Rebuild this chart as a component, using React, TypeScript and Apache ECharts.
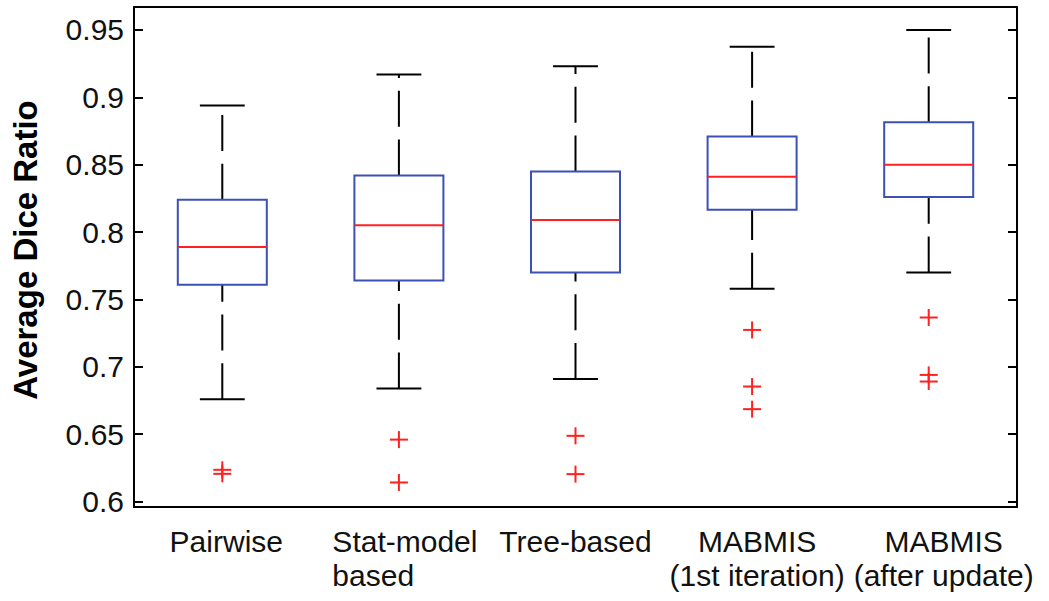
import React, { useEffect, useRef } from "react";
import * as echarts from "echarts";

const categories = [
  "Pairwise",
  "Stat-model\nbased",
  "Tree-based",
  "MABMIS\n(1st iteration)",
  "MABMIS\n(after update)",
];
const lowerWhisker = [0.676, 0.684, 0.691, 0.758, 0.770];
const q1 = [0.761, 0.764, 0.770, 0.8165, 0.826];
const median = [0.789, 0.805, 0.809, 0.841, 0.850];
const q3 = [0.824, 0.842, 0.845, 0.871, 0.8815];
const upperWhisker = [0.894, 0.917, 0.923, 0.9375, 0.950];
const outliers = [
  [0.6236, 0.6206],
  [0.646, 0.6142],
  [0.6488, 0.6204],
  [0.7274, 0.6854, 0.6686],
  [0.7366, 0.694, 0.6891],
];
const yTicks = [0.6, 0.65, 0.7, 0.75, 0.8, 0.85, 0.9, 0.95];

const FONT = "'Liberation Sans', Arial, sans-serif";
const BLUE = "#3d50b6";
const RED = "#ff2020";
// per-label horizontal nudges (left padding) and alignment
const labelPad = [8, 12, 0, 10, 30];
const labelAlign = ["center", "left", "center", "center", "center"];

export default function App() {
  const ref = useRef<HTMLDivElement>(null);
  useEffect(() => {
    if (!ref.current) return;
    const chart = echarts.init(ref.current, undefined, { renderer: "svg" });
    const boxData = categories.map((_, i) => [i, lowerWhisker[i], q1[i], median[i], q3[i], upperWhisker[i]]);
    const outData: number[][] = [];
    outliers.forEach((arr, i) => arr.forEach((v) => outData.push([i, v])));
    const rich: any = {};
    categories.forEach((_, i) => {
      rich["c" + i] = {
        fontSize: 30,
        fontFamily: FONT,
        color: "#111",
        lineHeight: 34,
        padding: [0, 0, 0, labelPad[i]],
        align: labelAlign[i],
      };
    });
    const option: any = {
      animation: false,
      backgroundColor: "#fff",
      grid: { left: 134, right: 32, top: 7, bottom: 94 },
      xAxis: [
        {
          type: "category",
          data: categories,
          position: "bottom",
          axisLine: { lineStyle: { color: "#000", width: 2 } },
          axisTick: { inside: true, alignWithLabel: true, length: 9, lineStyle: { color: "#000", width: 2 } },
          axisLabel: {
            margin: 17,
            interval: 0,
            formatter: (val: string, idx: number) =>
              val
                .split("\n")
                .map((l) => `{c${idx}|${l}}`)
                .join("\n"),
            rich,
          },
          splitLine: { show: false },
        },
        {
          type: "category",
          data: categories,
          position: "top",
          axisLine: { lineStyle: { color: "#000", width: 2 } },
          axisTick: { inside: true, alignWithLabel: true, length: 9, lineStyle: { color: "#000", width: 2 } },
          axisLabel: { show: false },
          splitLine: { show: false },
        },
      ],
      yAxis: [
        {
          type: "value",
          min: 0.596,
          max: 0.967,
          position: "left",
          name: "Average Dice Ratio",
          nameLocation: "middle",
          nameGap: 92,
          nameTextStyle: {
            fontSize: 33,
            fontWeight: "bold",
            fontFamily: FONT,
            color: "#000",
            padding: [0, 0, 0, 14],
          },
          axisLine: { show: true, lineStyle: { color: "#000", width: 2 } },
          axisTick: { show: true, inside: true, length: 9, customValues: yTicks, lineStyle: { color: "#000", width: 2 } },
          axisLabel: {
            customValues: yTicks,
            fontSize: 30,
            fontFamily: FONT,
            color: "#111",
            margin: 10,
          },
          splitLine: { show: false },
        },
        {
          type: "value",
          min: 0.596,
          max: 0.967,
          position: "right",
          axisLine: { show: true, lineStyle: { color: "#000", width: 2 } },
          axisTick: { show: true, inside: true, length: 9, customValues: yTicks, lineStyle: { color: "#000", width: 2 } },
          axisLabel: { show: false },
          splitLine: { show: false },
        },
      ],
      series: [
        {
          type: "custom",
          xAxisIndex: 0,
          yAxisIndex: 0,
          data: boxData,
          encode: { x: 0, y: [1, 2, 3, 4, 5] },
          renderItem: (params: any, api: any) => {
            const i = api.value(0);
            const lo = api.coord([i, api.value(1)]);
            const b1 = api.coord([i, api.value(2)]);
            const md = api.coord([i, api.value(3)]);
            const b3 = api.coord([i, api.value(4)]);
            const hi = api.coord([i, api.value(5)]);
            const bw = api.size([1, 0])[0];
            const half = bw * 0.252;
            const cap = bw * 0.127;
            const x = lo[0];
            const dash = { stroke: "#000", lineWidth: 2, lineDash: [36, 12.7], fill: null };
            const solid = { stroke: "#000", lineWidth: 2, fill: null };
            return {
              type: "group",
              children: [
                { type: "line", shape: { x1: x, y1: lo[1], x2: x, y2: b1[1] }, style: dash },
                { type: "line", shape: { x1: x, y1: b3[1], x2: x, y2: hi[1] }, style: dash },
                { type: "line", shape: { x1: x - cap, y1: lo[1], x2: x + cap, y2: lo[1] }, style: solid },
                { type: "line", shape: { x1: x - cap, y1: hi[1], x2: x + cap, y2: hi[1] }, style: solid },
                {
                  type: "rect",
                  shape: { x: x - half, y: b3[1], width: half * 2, height: b1[1] - b3[1] },
                  style: { stroke: BLUE, lineWidth: 2, fill: "none" },
                },
                { type: "line", shape: { x1: x - half, y1: md[1], x2: x + half, y2: md[1] }, style: { stroke: RED, lineWidth: 2 } },
              ],
            };
          },
        },
        {
          type: "custom",
          xAxisIndex: 0,
          yAxisIndex: 0,
          data: outData,
          encode: { x: 0, y: 1 },
          renderItem: (params: any, api: any) => {
            const p = api.coord([api.value(0), api.value(1)]);
            const st = { stroke: RED, lineWidth: 2 };
            return {
              type: "group",
              children: [
                { type: "line", shape: { x1: p[0] - 9, y1: p[1], x2: p[0] + 9, y2: p[1] }, style: st },
                { type: "line", shape: { x1: p[0], y1: p[1] - 8.5, x2: p[0], y2: p[1] + 8.5 }, style: st },
              ],
            };
          },
        },
      ],
    };
    chart.setOption(option);
    return () => chart.dispose();
  }, []);
  return (
    <div
      ref={ref}
      style={{ position: "absolute", left: 0, top: 0, width: 1049, height: 601, background: "#fff" }}
    />
  );
}
